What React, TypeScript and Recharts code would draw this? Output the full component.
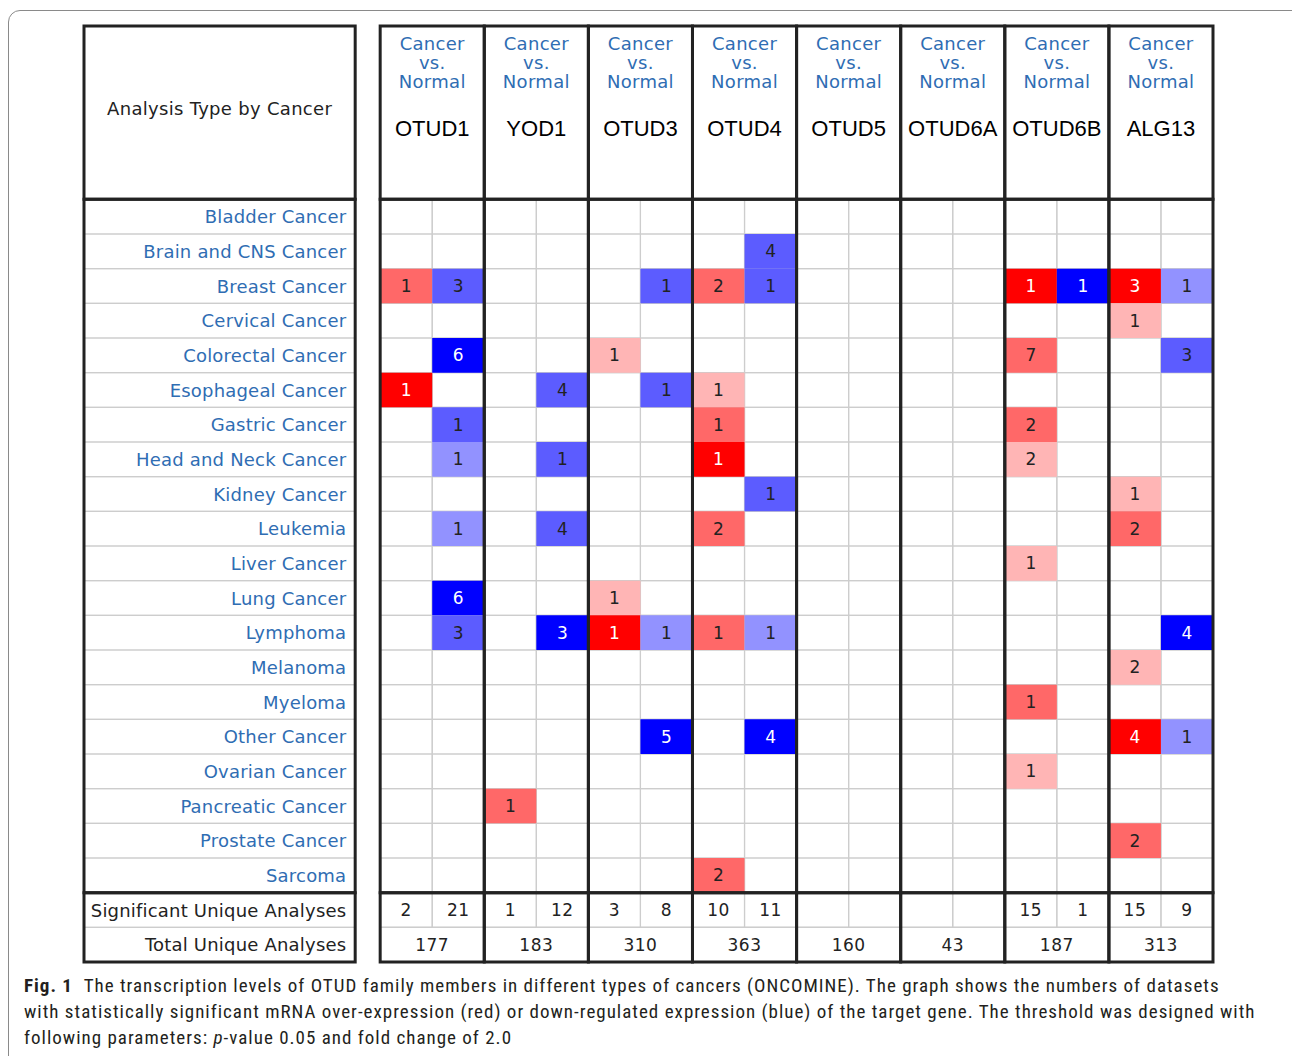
import { ReferenceArea, Scatter, ScatterChart, XAxis, YAxis } from "recharts";

const genes = ["OTUD1", "YOD1", "OTUD3", "OTUD4", "OTUD5", "OTUD6A", "OTUD6B", "ALG13"];

const cancers = [
  "Bladder Cancer",
  "Brain and CNS Cancer",
  "Breast Cancer",
  "Cervical Cancer",
  "Colorectal Cancer",
  "Esophageal Cancer",
  "Gastric Cancer",
  "Head and Neck Cancer",
  "Kidney Cancer",
  "Leukemia",
  "Liver Cancer",
  "Lung Cancer",
  "Lymphoma",
  "Melanoma",
  "Myeloma",
  "Other Cancer",
  "Ovarian Cancer",
  "Pancreatic Cancer",
  "Prostate Cancer",
  "Sarcoma",
];

// [cancer, gene, datasets, shade 1..3]
const overExpressed: [string, string, number, number][] = [
  ["Breast Cancer", "OTUD1", 1, 2],
  ["Breast Cancer", "OTUD4", 2, 2],
  ["Breast Cancer", "OTUD6B", 1, 3],
  ["Breast Cancer", "ALG13", 3, 3],
  ["Cervical Cancer", "ALG13", 1, 1],
  ["Colorectal Cancer", "OTUD3", 1, 1],
  ["Colorectal Cancer", "OTUD6B", 7, 2],
  ["Esophageal Cancer", "OTUD1", 1, 3],
  ["Esophageal Cancer", "OTUD4", 1, 1],
  ["Gastric Cancer", "OTUD4", 1, 2],
  ["Gastric Cancer", "OTUD6B", 2, 2],
  ["Head and Neck Cancer", "OTUD4", 1, 3],
  ["Head and Neck Cancer", "OTUD6B", 2, 1],
  ["Kidney Cancer", "ALG13", 1, 1],
  ["Leukemia", "OTUD4", 2, 2],
  ["Leukemia", "ALG13", 2, 2],
  ["Liver Cancer", "OTUD6B", 1, 1],
  ["Lung Cancer", "OTUD3", 1, 1],
  ["Lymphoma", "OTUD3", 1, 3],
  ["Lymphoma", "OTUD4", 1, 2],
  ["Melanoma", "ALG13", 2, 1],
  ["Myeloma", "OTUD6B", 1, 2],
  ["Other Cancer", "ALG13", 4, 3],
  ["Ovarian Cancer", "OTUD6B", 1, 1],
  ["Pancreatic Cancer", "YOD1", 1, 2],
  ["Prostate Cancer", "ALG13", 2, 2],
  ["Sarcoma", "OTUD4", 2, 2],
];

const underExpressed: [string, string, number, number][] = [
  ["Brain and CNS Cancer", "OTUD4", 4, 2],
  ["Breast Cancer", "OTUD1", 3, 2],
  ["Breast Cancer", "OTUD3", 1, 2],
  ["Breast Cancer", "OTUD4", 1, 2],
  ["Breast Cancer", "OTUD6B", 1, 3],
  ["Breast Cancer", "ALG13", 1, 1],
  ["Colorectal Cancer", "OTUD1", 6, 3],
  ["Colorectal Cancer", "ALG13", 3, 2],
  ["Esophageal Cancer", "YOD1", 4, 2],
  ["Esophageal Cancer", "OTUD3", 1, 2],
  ["Gastric Cancer", "OTUD1", 1, 2],
  ["Head and Neck Cancer", "OTUD1", 1, 1],
  ["Head and Neck Cancer", "YOD1", 1, 2],
  ["Kidney Cancer", "OTUD4", 1, 2],
  ["Leukemia", "OTUD1", 1, 1],
  ["Leukemia", "YOD1", 4, 2],
  ["Lung Cancer", "OTUD1", 6, 3],
  ["Lymphoma", "OTUD1", 3, 2],
  ["Lymphoma", "YOD1", 3, 3],
  ["Lymphoma", "OTUD3", 1, 1],
  ["Lymphoma", "OTUD4", 1, 1],
  ["Lymphoma", "ALG13", 4, 3],
  ["Other Cancer", "OTUD3", 5, 3],
  ["Other Cancer", "OTUD4", 4, 3],
  ["Other Cancer", "ALG13", 1, 1],
];

const significantUp = [2, 1, 3, 10, null, null, 15, 15];
const significantDown = [21, 12, 8, 11, null, null, 1, 9];
const totalAnalyses = [177, 183, 310, 363, 160, 43, 187, 313];

const redShades = ["", "#ffb5b5", "#ff6868", "#ff0000"];
const blueShades = ["", "#9292ff", "#5c5cff", "#0000ff"];

const LABEL_BLUE = "#2f6db3";
const DARK = "#222";
const LEFT_MIN = -5.69;
const PANEL_END = -0.48;
const NROWS = cancers.length;

type Cell = { x: number; y: number; count: number; shade: number; fill: string };

const cells: Cell[] = [
  ...overExpressed.map(([c, g, n, s]) => ({
    x: genes.indexOf(g) * 2,
    y: cancers.indexOf(c),
    count: n,
    shade: s,
    fill: redShades[s],
  })),
  ...underExpressed.map(([c, g, n, s]) => ({
    x: genes.indexOf(g) * 2 + 1,
    y: cancers.indexOf(c),
    count: n,
    shade: s,
    fill: blueShades[s],
  })),
];

const cellLabels = cells.map((c) => ({ x: c.x + 0.5, y: c.y + 0.5, label: String(c.count), white: c.shade === 3 }));
const rowLabels = [...cancers, "Significant Unique Analyses", "Total Unique Analyses"].map((name, i) => ({
  x: PANEL_END - 0.17,
  y: i + 0.5,
  label: name,
  blue: i < NROWS,
}));
const summaryLabels = [
  ...genes.flatMap((_, g) => [
    { x: g * 2 + 0.5, y: NROWS + 0.5, label: significantUp[g] == null ? "" : String(significantUp[g]) },
    { x: g * 2 + 1.5, y: NROWS + 0.5, label: significantDown[g] == null ? "" : String(significantDown[g]) },
  ]),
  ...totalAnalyses.map((t, g) => ({ x: g * 2 + 1, y: NROWS + 1.5, label: String(t) })),
];
const headerSub = genes.flatMap((_, g) => [
  { x: g * 2 + 1, y: -4.5, label: "Cancer" },
  { x: g * 2 + 1, y: -3.95, label: "vs." },
  { x: g * 2 + 1, y: -3.4, label: "Normal" },
]);
const headerGene = genes.map((name, g) => ({ x: g * 2 + 1, y: -2.05, label: name }));
const headerLeft = [{ x: (LEFT_MIN + PANEL_END) / 2, y: -2.62, label: "Analysis Type by Cancer" }];

const textShape =
  (opts: { anchor?: string; size: number; family: string; spacing?: number; color: (p: any) => string }) =>
  (props: any) => {
    const { cx, cy, payload } = props;
    return (
      <text
        x={cx}
        y={cy}
        textAnchor={opts.anchor ?? "middle"}
        dominantBaseline="central"
        fontSize={opts.size}
        fontFamily={opts.family}
        letterSpacing={opts.spacing ?? 0}
        fill={opts.color(payload)}
      >
        {payload.label}
      </text>
    );
  };

const DEJAVU = "'DejaVu Sans', Verdana, sans-serif";
const ARIAL = "'Liberation Sans', Arial, sans-serif";

export default function App() {
  const boxes: [number, number][] = [
    [-5, 0],
    [0, NROWS],
    [NROWS, NROWS + 2],
  ];
  return (
    <div style={{ position: "relative", width: 1292, height: 1056, background: "#fff", overflow: "hidden" }}>
      <style>{`body{margin:0}`}</style>
      <div
        style={{
          position: "absolute",
          left: 8,
          top: 10,
          width: 1300,
          height: 1080,
          border: "1px solid #8a8a8a",
          borderRadius: 12,
        }}
      />
      <div style={{ position: "absolute", left: 0, top: 0 }}>
        <ScatterChart width={1292} height={1056} margin={{ top: 26, left: 84, right: 79, bottom: 94 }}>
          <XAxis type="number" dataKey="x" domain={[LEFT_MIN, 16]} allowDataOverflow hide />
          <YAxis type="number" dataKey="y" domain={[-5, NROWS + 2]} allowDataOverflow reversed hide />

          {/* white backgrounds */}
          <ReferenceArea x1={0} x2={16} y1={-5} y2={NROWS + 2} fill="#fff" fillOpacity={1} ifOverflow="visible" />
          <ReferenceArea x1={LEFT_MIN} x2={PANEL_END} y1={-5} y2={NROWS + 2} fill="#fff" fillOpacity={1} ifOverflow="visible" />

          {/* light grid: rows */}
          {Array.from({ length: NROWS + 2 }, (_, r) => (
            <ReferenceArea
              key={`rg${r}`}
              x1={0}
              x2={16}
              y1={r}
              y2={r + 1}
              fill="none"
              stroke="#cdcdcd"
              strokeWidth={1.2}
              ifOverflow="visible"
            />
          ))}
          {Array.from({ length: NROWS + 2 }, (_, r) => (
            <ReferenceArea
              key={`rl${r}`}
              x1={LEFT_MIN}
              x2={PANEL_END}
              y1={r}
              y2={r + 1}
              fill="none"
              stroke="#cdcdcd"
              strokeWidth={1.2}
              ifOverflow="visible"
            />
          ))}
          {/* light grid: sub-columns */}
          {Array.from({ length: 16 }, (_, c) => (
            <ReferenceArea
              key={`cg${c}`}
              x1={c}
              x2={c + 1}
              y1={0}
              y2={NROWS + 1}
              fill="none"
              stroke="#cdcdcd"
              strokeWidth={1.2}
              ifOverflow="visible"
            />
          ))}

          {/* coloured cells */}
          {cells.map((c, i) => (
            <ReferenceArea
              key={`c${i}`}
              x1={c.x}
              x2={c.x + 1}
              y1={c.y}
              y2={c.y + 1}
              fill={c.fill}
              fillOpacity={1}
              stroke="none"
              ifOverflow="visible"
            />
          ))}

          {/* thick boxes */}
          {genes.flatMap((_, g) =>
            boxes.map(([a, b]) => (
              <ReferenceArea
                key={`b${g}-${a}`}
                x1={g * 2}
                x2={g * 2 + 2}
                y1={a}
                y2={b}
                fill="none"
                stroke={DARK}
                strokeWidth={3}
                ifOverflow="visible"
              />
            ))
          )}
          {boxes.map(([a, b]) => (
            <ReferenceArea
              key={`lb${a}`}
              x1={LEFT_MIN}
              x2={PANEL_END}
              y1={a}
              y2={b}
              fill="none"
              stroke={DARK}
              strokeWidth={3}
              ifOverflow="visible"
            />
          ))}

          <Scatter
            data={cellLabels}
            isAnimationActive={false}
            shape={textShape({ size: 17, family: DEJAVU, color: (p) => (p.white ? "#fff" : DARK) })}
          />
          <Scatter
            data={rowLabels}
            isAnimationActive={false}
            shape={textShape({
              anchor: "end",
              size: 18,
              spacing: 0.2,
              family: DEJAVU,
              color: (p) => (p.blue ? LABEL_BLUE : DARK),
            })}
          />
          <Scatter
            data={summaryLabels}
            isAnimationActive={false}
            shape={textShape({ size: 17, family: DEJAVU, spacing: 0.5, color: () => DARK })}
          />
          <Scatter
            data={headerSub}
            isAnimationActive={false}
            shape={textShape({ size: 18, family: DEJAVU, spacing: 0.3, color: () => LABEL_BLUE })}
          />
          <Scatter
            data={headerGene}
            isAnimationActive={false}
            shape={textShape({ size: 22, family: ARIAL, color: () => "#000" })}
          />
          <Scatter
            data={headerLeft}
            isAnimationActive={false}
            shape={textShape({ size: 18, family: DEJAVU, spacing: 0.3, color: () => DARK })}
          />
        </ScatterChart>
      </div>
      <div
        style={{
          position: "absolute",
          left: 24,
          top: 973,
          fontFamily: "'Liberation Sans Narrow', 'Roboto Condensed', 'Liberation Sans', sans-serif",
          fontSize: 19,
          letterSpacing: 1.0,
          lineHeight: "26px",
          color: "#231f20",
          whiteSpace: "nowrap",
        }}
      >
        <div>
          <b>Fig. 1</b>&nbsp;&nbsp;The transcription levels of OTUD family members in different types of cancers
          (ONCOMINE). The graph shows the numbers of datasets
        </div>
        <div>
          with statistically significant mRNA over-expression (red) or down-regulated expression (blue) of the target
          gene. The threshold was designed with
        </div>
        <div>
          following parameters: <i>p</i>-value 0.05 and fold change of 2.0
        </div>
      </div>
    </div>
  );
}
